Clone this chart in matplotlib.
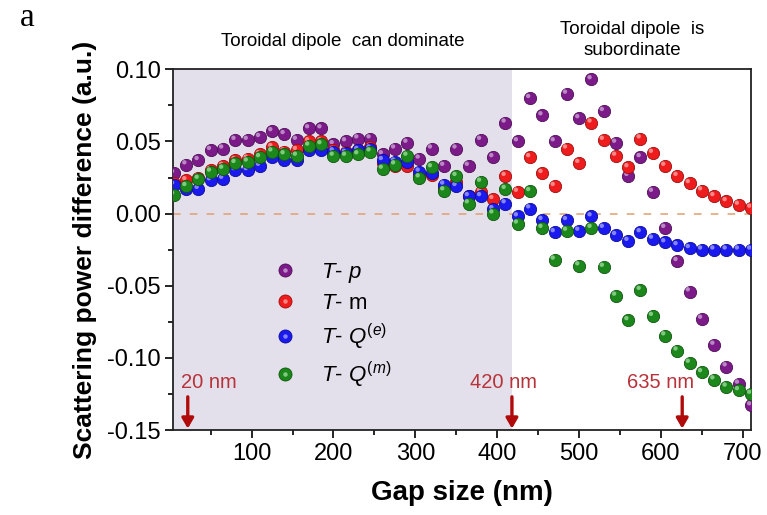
import matplotlib
matplotlib.use('Agg')
import matplotlib.pyplot as plt
from matplotlib.transforms import offset_copy
from matplotlib.legend_handler import HandlerTuple
from matplotlib.lines import Line2D
from matplotlib.ticker import MultipleLocator, FixedLocator, FormatStrFormatter

plt.rcParams['font.family'] = ['Liberation Sans', 'DejaVu Sans']
plt.rcParams['axes.unicode_minus'] = False
plt.rcParams['mathtext.fontset'] = 'custom'
plt.rcParams['mathtext.rm'] = 'Liberation Sans'
plt.rcParams['mathtext.it'] = 'Liberation Sans:italic'
plt.rcParams['mathtext.bf'] = 'Liberation Sans:bold'

# ---------------- data ----------------
gap = [5, 20, 35, 50, 65, 80, 95, 110, 125, 140, 155, 170, 185, 200, 215, 230,
       245, 260, 275, 290, 305, 320, 335, 350, 365, 380, 395, 410, 425, 440, 455, 470,
       485, 500, 515, 530, 545, 560, 575, 590, 605, 620, 635, 650, 665, 680, 695, 710]

t_p = [0.028, 0.034, 0.037, 0.044, 0.045, 0.051, 0.051, 0.053, 0.057, 0.055, 0.051, 0.059,
       0.059, 0.048, 0.050, 0.052, 0.052, 0.041, 0.045, 0.049, 0.038, 0.045, 0.033, 0.045,
       0.033, 0.051, 0.039, 0.063, 0.050, 0.080, 0.068, 0.050, 0.083, 0.066, 0.093, 0.071,
       0.049, 0.026, 0.039, 0.015, -0.010, -0.033, -0.054, -0.073, -0.091, -0.106, -0.118, -0.133]

t_m = [0.021, 0.023, 0.025, 0.030, 0.033, 0.037, 0.038, 0.041, 0.046, 0.043, 0.044, 0.050,
       0.050, 0.044, 0.043, 0.044, 0.046, 0.035, 0.033, 0.033, 0.026, 0.027, 0.018, 0.022,
       0.012, 0.015, 0.010, 0.026, 0.015, 0.039, 0.028, 0.019, 0.045, 0.035, 0.063, 0.051,
       0.040, 0.032, 0.052, 0.042, 0.033, 0.026, 0.021, 0.016, 0.012, 0.0085, 0.006, 0.004]

t_qe = [0.020, 0.017, 0.017, 0.023, 0.024, 0.030, 0.030, 0.033, 0.039, 0.037, 0.037, 0.044,
        0.044, 0.043, 0.042, 0.044, 0.045, 0.037, 0.036, 0.036, 0.029, 0.028, 0.020, 0.019,
        0.012, 0.012, 0.003, 0.007, -0.002, 0.0035, -0.0045, -0.013, -0.0046, -0.012, -0.002, -0.010,
        -0.015, -0.019, -0.013, -0.0175, -0.020, -0.022, -0.024, -0.025, -0.025, -0.025, -0.025, -0.025]

t_qm = [0.013, 0.019, 0.024, 0.029, 0.031, 0.035, 0.036, 0.039, 0.043, 0.041, 0.040, 0.047,
        0.048, 0.040, 0.040, 0.041, 0.043, 0.031, 0.034, 0.040, 0.025, 0.032, 0.016, 0.026,
        0.007, 0.022, 0.000, 0.017, -0.007, 0.0155, -0.010, -0.032, -0.012, -0.036, -0.010, -0.037,
        -0.057, -0.074, -0.053, -0.071, -0.0845, -0.095, -0.1035, -0.110, -0.115, -0.120, -0.1225, -0.125]

series = [t_p, t_m, t_qe, t_qm]
labels = [r'$T$- $p$', r'$T$- m', r'$T$- $Q^{(e)}$', r'$T$- $Q^{(m)}$']

x_ticks = [100, 200, 300, 400, 500, 600, 700]
y_ticks = [-0.15, -0.10, -0.05, 0.00, 0.05, 0.10]

arrow_x = [22, 418, 626]
arrow_text_x = [48, 408, 600]
arrow_labels = ['20 nm', '420 nm', '635 nm']

# ---------------- styles ----------------
colors = ['#7D1A8A', '#EE1C1C', '#1A1AEE', '#1C881C']
edges = ['#4E0F57', '#A00D0D', '#0C0C9A', '#0E560E']
lights = ['#C69BD0', '#FF9A9A', '#9A9AFF', '#93D693']
shade_color = '#E4E0EB'
shade_end = 418
xlim = (4, 710)
ylim = (-0.15, 0.10)

fig = plt.figure(figsize=(7.67, 5.15), dpi=100)
ax = fig.add_axes([0.2256, 0.165, 0.7535, 0.7004])

ax.axvspan(xlim[0], shade_end, color=shade_color, zorder=0, lw=0)
ax.axhline(0, color='#E0A070', lw=1.1, ls=(0, (5, 6)), zorder=1)

hl_trans = offset_copy(ax.transData, fig=fig, x=-1.3, y=1.6, units='points')
handles = []
for i, ys in enumerate(series):
    ax.scatter(gap, ys, s=78, c=colors[i], edgecolors=edges[i], linewidths=0.6, zorder=3 + i)
    ax.scatter(gap, ys, s=10, c=lights[i], edgecolors='none', zorder=3 + i, alpha=0.85,
               transform=hl_trans)
    h_base = Line2D([], [], ls='', marker='o', markersize=9.4, markerfacecolor=colors[i],
                    markeredgecolor=edges[i], markeredgewidth=0.6)
    h_hl = Line2D([], [], ls='', marker='o', markersize=3.2, markerfacecolor=lights[i],
                  markeredgecolor='none', alpha=0.85)
    handles.append((h_base, h_hl))

ax.set_xlim(*xlim)
ax.set_ylim(*ylim)
ax.xaxis.set_major_locator(FixedLocator(x_ticks))
ax.xaxis.set_minor_locator(MultipleLocator(50))
ax.yaxis.set_major_locator(FixedLocator(y_ticks))
ax.yaxis.set_minor_locator(MultipleLocator(0.025))
ax.yaxis.set_major_formatter(FormatStrFormatter('%.2f'))
ax.tick_params(which='both', direction='out', width=1.2, labelsize=17, top=False, right=False)
ax.tick_params(which='major', length=6, pad=3)
ax.tick_params(which='minor', length=3.5)
for sp in ax.spines.values():
    sp.set_linewidth(1.3)
    sp.set_color('#222222')

ax.set_xlabel('Gap size (nm)', fontsize=20, fontweight='bold', labelpad=11)
ax.set_ylabel('Scattering power difference (a.u.)', fontsize=19, fontweight='bold', labelpad=7)

leg = ax.legend(handles, labels, handler_map={tuple: HandlerTuple(ndivide=1)},
                loc='upper left', bbox_to_anchor=(274 / 767, 1 - 261 / 515),
                bbox_transform=fig.transFigure, frameon=False, fontsize=16,
                borderpad=0, borderaxespad=0, handlelength=1.0, handletextpad=1.1,
                labelspacing=0.35)

for ax_x, tx, lab in zip(arrow_x, arrow_text_x, arrow_labels):
    ax.annotate('', xy=(ax_x, -0.149), xytext=(ax_x, -0.127),
                arrowprops=dict(arrowstyle='-|>,head_width=0.35,head_length=0.6',
                                color='#B00A0A', lw=2.4, shrinkA=0, shrinkB=0), zorder=10)
    ax.text(tx, -0.117, lab, color='#B8323A', fontsize=14.5, ha='center', va='center', zorder=10)

fig.text(343 / 767, 1 - 42 / 515, 'Toroidal dipole  can dominate', fontsize=13.5,
         ha='center', va='center')
fig.text(632 / 767, 1 - 40 / 515, 'Toroidal dipole  is\nsubordinate', fontsize=13.5,
         ha='center', va='center', linespacing=1.3)
fig.text(27 / 767, 1 - 18 / 515, 'a', fontsize=24, family=['Liberation Serif'],
         ha='center', va='center')

fig.savefig('out.png', dpi=100)
